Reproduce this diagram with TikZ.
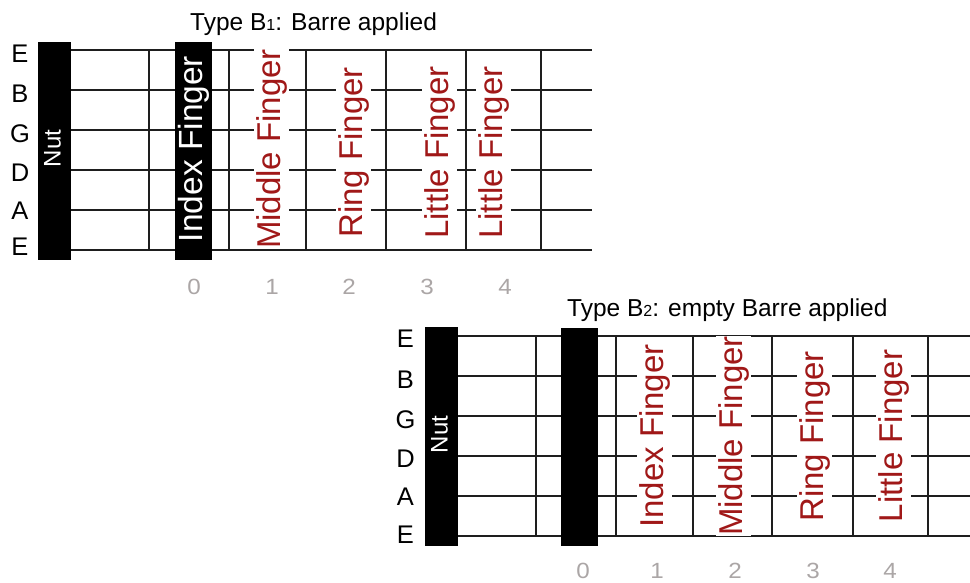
\documentclass[tikz,border=0pt]{standalone}
\usepackage{fontspec}
\setmainfont{Liberation Sans}
\newfontfamily\numfont[FakeStretch=1.1]{Liberation Sans}
\definecolor{fingred}{HTML}{A01818}
\definecolor{numgray}{HTML}{ABA6A6}
\definecolor{inkline}{HTML}{1E1E1E}
\newcommand\smdigit[1]{{\fontsize{16}{16}\selectfont #1}}
\begin{document}
\begin{tikzpicture}[x=1pt,y=-1pt,
  stringln/.style={line width=2pt,draw=inkline},
  fretln/.style={line width=2pt,draw=inkline},
  blackbar/.style={fill=black,draw=none},
  finger/.style={rotate=90,anchor=base,text=fingred,fill=white,inner xsep=0pt,inner ysep=2.5pt,font=\fontsize{33}{33}\selectfont},
  whitefinger/.style={rotate=90,anchor=base,text=white,inner sep=0pt,font=\fontsize{33.5}{33.5}\selectfont},
  nutlbl/.style={rotate=90,anchor=base,text=white,inner sep=0pt,font=\fontsize{24}{24}\selectfont},
  strlbl/.style={inner sep=0pt,font=\fontsize{25.5}{25.5}\selectfont},
  fretnum/.style={inner sep=0pt,text=numgray,font=\numfont\fontsize{22}{22}\selectfont},
  titlelbl/.style={anchor=base west,inner sep=0pt,font=\fontsize{24.5}{24.5}\selectfont}]
\useasboundingbox (0,0) rectangle (970,583);

% ================= Diagram B1 =================
\node[titlelbl] (t1) at (190,30.5) {Type B\smdigit{1}: Barre applied};
% strings
\foreach \y in {50,90,130,170,210,250}
  \draw[stringln] (71,\y) -- (592,\y);
% frets
\foreach \x in {149,229,306,386,466,541}
  \draw[fretln] (\x,50) -- (\x,250);
% nut and barre
\fill[blackbar] (38,42) rectangle (71,260);
\fill[blackbar] (175,42) rectangle (212,260);
\node[nutlbl] (nut1) at (60.5,148.5) {Nut};
\node[whitefinger] (i1) at (202.5,149) {Index Finger};
% string names
\node[strlbl] (s1a) at (20,53.5) {E};
\node[strlbl] (s1b) at (20,93.5) {B};
\node[strlbl] (s1c) at (20,133.5) {G};
\node[strlbl] (s1d) at (20,173) {D};
\node[strlbl] (s1e) at (20,211) {A};
\node[strlbl] (s1f) at (20,247) {E};
% finger labels
\node[finger] (m1) at (280,149) {Middle Finger};
\node[finger] (r1) at (362,152.5) {Ring Finger};
\node[finger] (l1) at (448,152.5) {Little Finger};
\node[finger] (l1b) at (502,152.5) {Little Finger};
% fret numbers
\node[fretnum] (n10) at (194,287) {0};
\node[fretnum] (n11) at (272,287) {1};
\node[fretnum] (n12) at (349,287) {2};
\node[fretnum] (n13) at (427,287) {3};
\node[fretnum] (n14) at (505,287) {4};

% ================= Diagram B2 =================
\node[titlelbl] (t2) at (567,316.5) {Type B\smdigit{2}: empty Barre applied};
\foreach \y in {336,376,416,456,496,536}
  \draw[stringln] (458,\y) -- (970,\y);
\foreach \x in {536,616,693,772,853,928}
  \draw[fretln] (\x,336) -- (\x,536);
\fill[blackbar] (425,327) rectangle (458,546);
\fill[blackbar] (561,328) rectangle (598,546);
\node[nutlbl] (nut2) at (447.5,434.5) {Nut};
\node[strlbl] (s2a) at (405.5,338.5) {E};
\node[strlbl] (s2b) at (405.5,380) {B};
\node[strlbl] (s2c) at (405.5,419.5) {G};
\node[strlbl] (s2d) at (405.5,458.5) {D};
\node[strlbl] (s2e) at (405.5,497) {A};
\node[strlbl] (s2f) at (405.5,535) {E};
\node[finger] (i2) at (663,436) {Index Finger};
\node[finger] (m2) at (742,436) {Middle Finger};
\node[finger] (r2) at (823,436.5) {Ring Finger};
\node[finger] (l2) at (902,436) {Little Finger};
\node[fretnum] (n20) at (583,571) {0};
\node[fretnum] (n21) at (657,571) {1};
\node[fretnum] (n22) at (735,571) {2};
\node[fretnum] (n23) at (813,571) {3};
\node[fretnum] (n24) at (890,571) {4};
\end{tikzpicture}
\end{document}
